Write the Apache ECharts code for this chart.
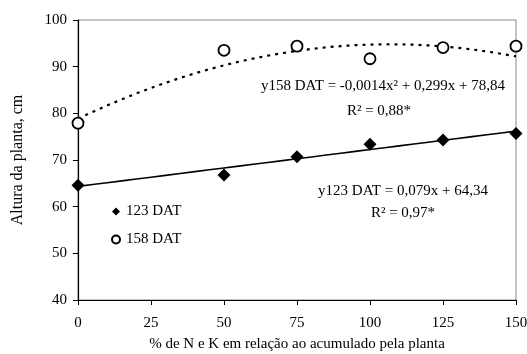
<!DOCTYPE html>
<html><head><meta charset="utf-8">
<script src="https://cdn.jsdelivr.net/npm/echarts@6/dist/echarts.min.js"></script>
<style>html,body{margin:0;padding:0;background:#fff}#c{width:527px;height:354px}</style>
</head><body><div id="c"></div>
<script>
const xValues = [0, 50, 75, 100, 125, 150];
const dat123 = [64.6, 66.8, 70.7, 73.4, 74.3, 75.7];
const dat158 = [77.9, 93.5, 94.4, 91.7, 94.1, 94.4];
const xTicks = [0, 25, 50, 75, 100, 125, 150];
// trend line coefficients as printed in the chart
const lin123 = [64.34, 0.079];
const quad158 = [78.84, 0.299, -0.0014];
const trendX = [];
for (let x = 0; x <= 150; x += 5) trendX.push(x);

const font = '"Liberation Serif", "Times New Roman", serif';
const chart = echarts.init(document.getElementById('c'));
chart.setOption({
  animation: false,
  textStyle: { fontFamily: font },
  grid: { left: 78, right: 11, top: 20, bottom: 54, show: true, borderColor: '#888', borderWidth: 1, containLabel: false, outerBoundsMode: 'none' },
  xAxis: {
    type: 'value', min: 0, max: 150, interval: 25,
    name: '% de N e K em relação ao acumulado pela planta',
    nameLocation: 'middle', nameGap: 37,
    nameTextStyle: { fontFamily: font, fontSize: 15, color: '#000' },
    axisLine: { lineStyle: { color: '#000', width: 1.2 } },
    axisTick: { show: true, inside: false, length: 5, lineStyle: { color: '#000' } },
    axisLabel: { fontFamily: font, fontSize: 15, color: '#000', margin: 16 },
    splitLine: { show: false }
  },
  yAxis: {
    type: 'value', min: 40, max: 100, interval: 10,
    name: 'Altura da planta, cm',
    nameLocation: 'middle', nameGap: 52,
    nameTextStyle: { fontFamily: font, fontSize: 16, color: '#000' },
    axisLine: { show: true, lineStyle: { color: '#000', width: 1.2 } },
    axisTick: { show: true, inside: false, length: 5, lineStyle: { color: '#000' } },
    axisLabel: { fontFamily: font, fontSize: 15, color: '#000', margin: 11 },
    splitLine: { show: false }
  },
  legend: {
    orient: 'vertical', left: 111, top: 204, itemGap: 13, padding: 0,
    itemWidth: 8, itemHeight: 8,
    textStyle: { fontFamily: font, fontSize: 15, color: '#000', padding: [0,0,0,1] },
    data: ['123 DAT', '158 DAT']
  },
  series: [
    {
      name: 'trend123', type: 'line', showSymbol: false, silent: true,
      data: trendX.map(x => [x, lin123[0] + lin123[1] * x]),
      lineStyle: { color: '#000', width: 1.6 }, z: 1
    },
    {
      name: 'trend158', type: 'line', showSymbol: false, silent: true, smooth: false,
      data: trendX.map(x => [x, quad158[0] + quad158[1] * x + quad158[2] * x * x]),
      lineStyle: { color: '#000', width: 2.2, type: [3, 5] }, z: 1
    },
    {
      name: '123 DAT', type: 'scatter', symbol: 'diamond', symbolSize: 13,
      itemStyle: { color: '#000', opacity: 1 },
      data: xValues.map((x, i) => [x, dat123[i]]), z: 3
    },
    {
      name: '158 DAT', type: 'scatter', symbol: 'circle', symbolSize: 11,
      itemStyle: { color: '#fff', borderColor: '#000', borderWidth: 1.8, opacity: 1 },
      data: xValues.map((x, i) => [x, dat158[i]]), z: 3
    }
  ],
  graphic: [
    { type: 'text', x: 383, y: 86, style: { text: 'y158 DAT = -0,0014x² + 0,299x + 78,84', font: '15px ' + font, fill: '#000', textAlign: 'center', textVerticalAlign: 'middle' } },
    { type: 'text', x: 379, y: 111, style: { text: 'R² = 0,88*', font: '15px ' + font, fill: '#000', textAlign: 'center', textVerticalAlign: 'middle' } },
    { type: 'text', x: 403, y: 191, style: { text: 'y123 DAT = 0,079x + 64,34', font: '15px ' + font, fill: '#000', textAlign: 'center', textVerticalAlign: 'middle' } },
    { type: 'text', x: 403, y: 213, style: { text: 'R² = 0,97*', font: '15px ' + font, fill: '#000', textAlign: 'center', textVerticalAlign: 'middle' } }
  ]
});
</script></body></html>
